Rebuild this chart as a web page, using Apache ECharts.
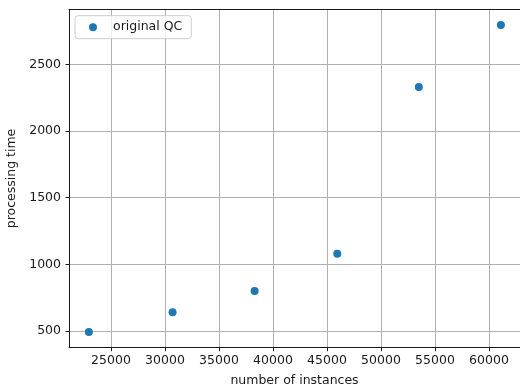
<!DOCTYPE html>
<html>
<head>
<meta charset="utf-8">
<script src="https://cdn.jsdelivr.net/npm/echarts@6/dist/echarts.min.js"></script>
<style>
  html, body { margin: 0; padding: 0; background: #fff; }
  #chart { width: 520px; height: 390px; }
</style>
</head>
<body>
<div id="chart"></div>
<script>
// values
const instances = [22950, 30700, 38300, 45950, 53500, 61100];
const procTime = [493, 640, 800, 1080, 2330, 2795];
const seriesName = "original QC";
const xRange = [21111, 62870];
const yRange = [375, 2912];

const chart = echarts.init(document.getElementById("chart"));
const font = "DejaVu Sans";
const ink = "#1a1a1a";
const plain = (v) => String(v);

chart.setOption({
  backgroundColor: "#ffffff",
  animation: false,
  textStyle: { fontFamily: font },
  grid: {
    left: 69, right: 0, top: 9.3, bottom: 42.3,
    containLabel: false, outerBoundsMode: "none",
    show: false,
  },
  legend: {
    data: [seriesName],
    left: 75, top: 15.7,
    orient: "vertical",
    icon: "circle",
    itemWidth: 30, itemHeight: 8,
    padding: [4.5, 9, 4.5, 14],
    backgroundColor: "rgba(255,255,255,0.8)",
    borderColor: "#cccccc", borderWidth: 1, borderRadius: 3,
    textStyle: { fontFamily: font, fontSize: 12.5, color: ink, lineHeight: 14 },
  },
  xAxis: [{
    type: "value",
    min: xRange[0], max: xRange[1],
    splitNumber: 8,
    name: "number of instances",
    nameLocation: "middle", nameGap: 26.5,
    nameTextStyle: { fontFamily: font, fontSize: 12.5, color: ink },
    axisLine: { show: true, lineStyle: { color: ink, width: 1 } },
    axisTick: { show: true, length: 3.5, lineStyle: { color: ink } },
    axisLabel: { fontFamily: font, fontSize: 12.5, color: ink, margin: 7, formatter: plain, showMinLabel: false, showMaxLabel: false },
    splitLine: { show: true, lineStyle: { color: "#b0b0b0", width: 1 } },
  }, {
    // top spine only
    type: "value", position: "top",
    min: xRange[0], max: xRange[1],
    axisLine: { show: true, onZero: false, lineStyle: { color: ink, width: 1 } },
    axisTick: { show: false }, axisLabel: { show: false }, splitLine: { show: false },
  }],
  yAxis: {
    type: "value",
    min: yRange[0], max: yRange[1],
    splitNumber: 5,
    name: "processing time",
    nameLocation: "middle", nameGap: 48, nameRotate: 90,
    nameTextStyle: { fontFamily: font, fontSize: 12.5, color: ink },
    axisLine: { show: true, lineStyle: { color: ink, width: 1 } },
    axisTick: { show: true, length: 3.5, lineStyle: { color: ink } },
    axisLabel: { fontFamily: font, fontSize: 12.5, color: ink, margin: 8, formatter: plain, showMinLabel: false, showMaxLabel: false },
    splitLine: { show: true, lineStyle: { color: "#b0b0b0", width: 1 } },
  },
  series: [{
    name: seriesName,
    type: "scatter",
    data: instances.map((x, i) => [x, procTime[i]]),
    symbol: "circle",
    symbolSize: 8,
    itemStyle: { color: "#1f77b4", opacity: 1 },
  }],
});
</script>
</body>
</html>
